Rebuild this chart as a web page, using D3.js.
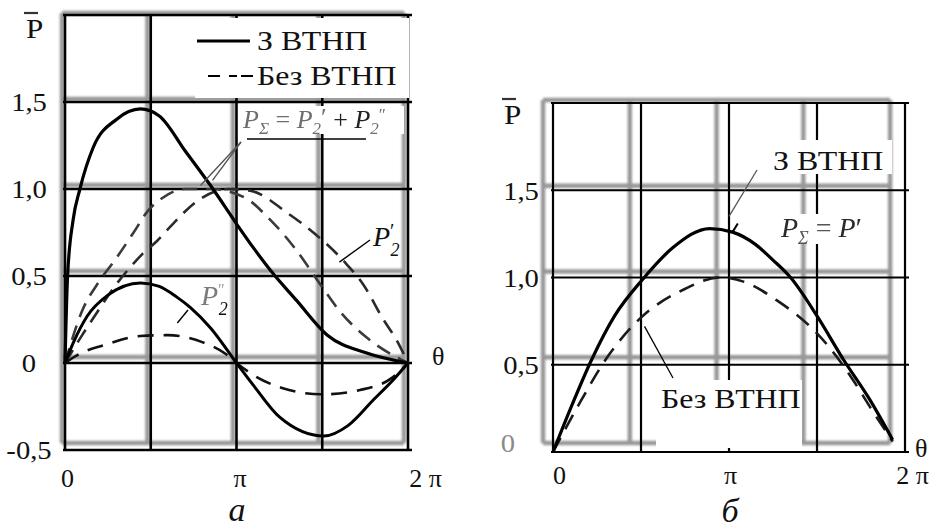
<!DOCTYPE html>
<html>
<head>
<meta charset="utf-8">
<script src="https://cdn.jsdelivr.net/npm/d3@7"></script>
<style>
  html, body { margin: 0; padding: 0; background: #fff; }
  svg { display: block; }
</style>
</head>
<body>
<svg id="chart" width="936" height="529"></svg>
<script>
const PI = Math.PI;

// ---------- Panel а (θ given in multiples of π) ----------
// P_Σ with ВТНП (solid)
const aThetaSumWith = [0, 0.015, 0.047, 0.087, 0.165, 0.3, 0.44, 0.55, 0.7, 0.863, 1.0, 1.1, 1.2, 1.35, 1.53, 1.75, 2.0];
const aSumWith      = [0, 0.5, 0.82, 1.0, 1.24, 1.4, 1.46, 1.42, 1.22, 1.0, 0.8, 0.66, 0.53, 0.36, 0.16, 0.06, 0];
// P2'' with ВТНП (solid)
const aThetaP2ppWith = [0, 0.05, 0.13, 0.25, 0.44, 0.55, 0.65, 0.73, 0.85, 1.0, 1.1, 1.25, 1.51, 1.65, 1.8, 1.92, 2.0];
const aP2ppWith      = [0, 0.12, 0.27, 0.39, 0.46, 0.44, 0.38, 0.32, 0.2, 0, -0.13, -0.31, -0.42, -0.36, -0.21, -0.09, 0];
// P2' (dashed)
const aThetaP2p = [0, 0.1, 0.2, 0.29, 0.38, 0.455, 0.535, 0.62, 0.77, 0.95, 1.08, 1.3, 1.46, 1.64, 1.74, 1.85, 1.94, 2.0];
const aP2p      = [0, 0.16, 0.31, 0.44, 0.55, 0.63, 0.7, 0.79, 0.93, 1.0, 0.99, 0.86, 0.74, 0.57, 0.45, 0.26, 0.12, 0];
// P_Σ without ВТНП (dashed)
const aThetaSumWithout = [0, 0.1, 0.2, 0.29, 0.4, 0.48, 0.57, 0.7, 0.85, 1.05, 1.18, 1.34, 1.49, 1.6, 1.78, 2.0];
const aSumWithout      = [0, 0.3, 0.47, 0.59, 0.75, 0.87, 0.95, 1.0, 1.0, 0.95, 0.84, 0.66, 0.45, 0.3, 0.13, 0];
// P2'' without ВТНП (dashed)
const aThetaP2ppWithout = [0, 0.1, 0.22, 0.44, 0.6, 0.8, 0.94, 1.0, 1.1, 1.27, 1.5, 1.72, 1.9, 2.0];
const aP2ppWithout      = [0, 0.06, 0.1, 0.155, 0.16, 0.12, 0.05, 0, -0.07, -0.145, -0.18, -0.155, -0.09, 0];

// ---------- Panel б ----------
const bThetaSumWith = [0, 0.1, 0.22, 0.35, 0.51, 0.68, 0.89, 1.02, 1.15, 1.25, 1.35, 1.5, 1.65, 1.8, 1.93];
const bSumWith      = [0, 0.25, 0.53, 0.78, 0.99, 1.17, 1.28, 1.26, 1.19, 1.1, 1.0, 0.78, 0.53, 0.3, 0.07];
const bThetaSumWithout = [0, 0.14, 0.32, 0.5, 0.74, 0.95, 1.1, 1.27, 1.46, 1.57, 1.7, 1.8, 1.93];
const bSumWithout      = [0, 0.26, 0.56, 0.77, 0.93, 1.0, 0.97, 0.87, 0.72, 0.6, 0.42, 0.26, 0.06];

// ---------- Ticks ----------
const gridSteps = [0, 0.5, 1, 1.5, 2];
const aGridY = [-0.5, 0, 0.5, 1.0, 1.5, 2.0];
const bGridY = [0, 0.5, 1.0, 1.5, 2.0];
const aYTicks = [-0.5, 0, 0.5, 1.0, 1.5];
const aYTickLabels = ["-0,5", "0", "0,5", "1,0", "1,5"];
const bYTicks = [0, 0.5, 1.0, 1.5];
const bYTickLabels = ["0", "0,5", "1,0", "1,5"];
const xTicks = [0, 1, 2];
const xTickLabels = ["0", "π", "2 π"];

const FONT = "'Liberation Serif', 'Times New Roman', serif";
const svg = d3.select("#chart");

const defs = svg.append("defs");
defs.append("filter").attr("id", "soft").attr("x", "-5%").attr("y", "-5%").attr("width", "110%").attr("height", "110%")
  .append("feGaussianBlur").attr("stdDeviation", 1.1);
defs.append("filter").attr("id", "soft2")
  .append("feGaussianBlur").attr("stdDeviation", 0.6);

const zip = (t, v) => t.map((d, i) => [d, v[i]]);

function text(g, x, y, str, size, opts = {}) {
  const t = g.append("text")
    .attr("transform", `translate(${x},${y}) scale(${opts.sx || 1},1)`)
    .attr("font-family", FONT)
    .attr("font-size", size)
    .attr("text-anchor", opts.anchor || "start")
    .attr("fill", opts.fill || "#111")
    .attr("font-style", opts.italic ? "italic" : "normal");
  if (opts.filter) t.attr("filter", opts.filter);
  t.text(str);
  return t;
}

function makePanel(cfg) {
  const g = svg.append("g");
  const x = d3.scaleLinear().domain([0, 2 * PI]).range(cfg.xr);
  const y = d3.scaleLinear().domain(cfg.yd).range(cfg.yr);
  const [x0, x1] = cfg.xr;
  const [yb, yt] = cfg.yr;

  // shadow copy of the grid, slightly displaced and shrunk
  const ghost = g.append("g")
    .attr("transform", `translate(${cfg.ghost[0]},${cfg.ghost[1]}) scale(${cfg.ghost[2]},${cfg.ghost[3]})`)
    .attr("stroke", "#979797").attr("stroke-width", 4.5).attr("filter", "url(#soft)");
  ghost.selectAll("line.v").data(gridSteps).join("line")
    .attr("x1", d => x(d * PI)).attr("x2", d => x(d * PI))
    .attr("y1", yt).attr("y2", yb);
  ghost.selectAll("line.h").data(cfg.gridY).join("line")
    .attr("x1", x0).attr("x2", x1)
    .attr("y1", d => y(d)).attr("y2", d => y(d));

  // main grid
  const main = g.append("g").attr("stroke", "#000").attr("stroke-width", cfg.gridW);
  main.selectAll("line.v").data(gridSteps).join("line")
    .attr("x1", d => x(d * PI)).attr("x2", d => x(d * PI))
    .attr("y1", yt).attr("y2", yb);
  main.selectAll("line.h").data(cfg.gridY).join("line")
    .attr("x1", x0 - 2).attr("x2", x1 + 4)
    .attr("y1", d => y(d)).attr("y2", d => y(d));

  // y tick labels, centred in the left margin
  const faint = d => cfg.faintZero && d === 0;
  const ya = g.append("g").attr("transform", `translate(${cfg.yLabelX},0)`)
    .call(d3.axisLeft(y).tickValues(cfg.yTicks).tickFormat((d, i) => cfg.yTickLabels[i]).tickSize(0).tickPadding(0));
  ya.select(".domain").remove();
  ya.selectAll("text").attr("x", d => faint(d) ? -12 : 0).attr("y", d => faint(d) ? -9 : 0)
    .attr("text-anchor", "middle")
    .attr("font-family", FONT).attr("font-size", 26)
    .attr("fill", d => faint(d) ? "#8a8a8a" : "#111")
    .attr("transform", "scale(1.1,1)").attr("dy", "0.34em");

  // x tick labels
  const xa = g.append("g").attr("transform", `translate(0,${cfg.xLabelY})`)
    .call(d3.axisBottom(x).tickValues(xTicks.map(d => d * PI)).tickFormat((d, i) => xTickLabels[i]).tickSize(0).tickPadding(0));
  xa.select(".domain").remove();
  xa.selectAll("text").attr("y", 0).attr("dy", 0)
    .attr("dx", (d, i) => cfg.xLabelDx[i])
    .attr("font-family", FONT).attr("font-size", 26).attr("fill", "#111");

  return { g, x, y };
}

const A = makePanel({
  xr: [65, 408], yd: [-0.5, 2.0], yr: [450, 15],
  ghost: [-2.8, -1.8, 0.997, 0.9885], gridW: 2.6, gridY: aGridY,
  yTicks: aYTicks, yTickLabels: aYTickLabels, yLabelX: 29,
  xLabelY: 487, xLabelDx: [2, 3, 17], faintZero: false
});
const B = makePanel({
  xr: [553, 905], yd: [0, 2.0], yr: [452, 103],
  ghost: [-2.2, -1.3, 0.986, 0.983], gridW: 2.2, gridY: bGridY,
  yTicks: bYTicks, yTickLabels: bYTickLabels, yLabelX: 521,
  xLabelY: 484, xLabelDx: [6, 1, 7], faintZero: true
});

// white areas behind legend and annotations
const covers = [
  [A.g, 195, 18, 214, 80],
  [A.g, 246, 106, 158, 28],
  [B.g, 770, 140, 122, 34],
  [B.g, 778, 214, 104, 30],
  [B.g, 656, 380, 146, 68]
];
covers.forEach(([g, x, y, w, h]) => g.append("rect").attr("x", x).attr("y", y).attr("width", w).attr("height", h).attr("fill", "#fff"));

function curve(P, theta, vals, opts) {
  const line = d3.line().x(d => P.x(d[0] * PI)).y(d => P.y(d[1])).curve(d3.curveMonotoneX);
  const p = P.g.append("path").datum(zip(theta, vals))
    .attr("d", line).attr("fill", "none")
    .attr("stroke", opts.color || "#000").attr("stroke-width", opts.w || 3)
    .attr("stroke-linecap", "butt").attr("stroke-linejoin", "round");
  if (opts.dash) p.attr("stroke-dasharray", opts.dash);
  if (opts.filter) p.attr("filter", opts.filter);
  return p;
}

// Panel а curves
curve(A, aThetaSumWithout, aSumWithout, { dash: "15,9", w: 2.6, color: "#3a3a3a", filter: "url(#soft2)" });
curve(A, aThetaP2p, aP2p, { dash: "15,9", w: 2.6, color: "#2a2a2a", filter: "url(#soft2)" });
curve(A, aThetaP2ppWithout, aP2ppWithout, { dash: "16,10", w: 2.6, color: "#111" });
curve(A, aThetaSumWith, aSumWith, { w: 3.2 });
curve(A, aThetaP2ppWith, aP2ppWith, { w: 3.0 });

// Panel б curves
curve(B, bThetaSumWithout, bSumWithout, { dash: "16,10", w: 2.6, color: "#1a1a1a" });
curve(B, bThetaSumWith, bSumWith, { w: 3.2 });

// ---------- Legend (panel а) ----------
A.g.append("line").attr("x1", 197).attr("x2", 250).attr("y1", 41).attr("y2", 41).attr("stroke", "#000").attr("stroke-width", 3);
text(A.g, 257, 50, "З ВТНП", 27, { sx: 1.18 });
A.g.append("line").attr("x1", 208).attr("x2", 253).attr("y1", 76).attr("y2", 76)
  .attr("stroke", "#000").attr("stroke-width", 2).attr("stroke-dasharray", "12,9,8,4");
text(A.g, 257, 85, "Без ВТНП", 27, { sx: 1.18 });

// ---------- Annotations (panel а) ----------
function lead(g, x1, y1, x2, y2, color, w) {
  g.append("line").attr("x1", x1).attr("y1", y1).attr("x2", x2).attr("y2", y2)
    .attr("stroke", color || "#000").attr("stroke-width", w || 1.4);
}

// P_Σ = P2' + P2''
const sumLbl = A.g.append("text").attr("x", 243).attr("y", 128)
  .attr("font-family", FONT).attr("font-size", 26).attr("font-style", "italic").attr("fill", "#6e6e6e")
  .attr("filter", "url(#soft2)");
sumLbl.append("tspan").text("P");
sumLbl.append("tspan").attr("font-size", 17).attr("dy", 6).text("Σ");
sumLbl.append("tspan").attr("dy", -6).attr("font-style", "normal").text(" = ");
sumLbl.append("tspan").text("P");
sumLbl.append("tspan").attr("font-size", 17).attr("dy", 6).text("2");
sumLbl.append("tspan").attr("dy", -8).attr("font-style", "normal").text("′");
sumLbl.append("tspan").attr("dy", 2).attr("font-style", "normal").attr("fill", "#222").text(" + ");
sumLbl.append("tspan").attr("fill", "#222").text("P");
sumLbl.append("tspan").attr("font-size", 17).attr("dy", 6).text("2");
sumLbl.append("tspan").attr("dy", -14).attr("font-size", 17).attr("font-style", "normal").text("″");
lead(A.g, 247, 139, 366, 139, "#000", 1.6);
lead(A.g, 241, 142, A.x(0.79 * PI), A.y(1.02), "#555", 1.4);
lead(A.g, 241, 142, A.x(0.86 * PI), A.y(1.05), "#555", 1.4);

// P2'
const p2pLbl = A.g.append("text").attr("x", 373).attr("y", 246)
  .attr("font-family", FONT).attr("font-size", 28).attr("font-style", "italic").attr("fill", "#111");
p2pLbl.append("tspan").text("P");
p2pLbl.append("tspan").attr("font-size", 20).attr("dy", -8).attr("font-style", "normal").text("′");
p2pLbl.append("tspan").attr("font-size", 18).attr("dy", 18).attr("dx", -4).text("2");
lead(A.g, 370, 240, A.x(1.6 * PI), A.y(0.58), "#000", 1.4);

// P2''
const p2ppLbl = A.g.append("text").attr("x", 201).attr("y", 305)
  .attr("font-family", FONT).attr("font-size", 28).attr("font-style", "italic").attr("fill", "#7a7a7a")
  .attr("filter", "url(#soft2)");
p2ppLbl.append("tspan").text("P");
p2ppLbl.append("tspan").attr("font-size", 16).attr("dy", -10).attr("font-style", "normal").attr("fill", "#999").text("″");
p2ppLbl.append("tspan").attr("font-size", 18).attr("dy", 20).attr("dx", -6).attr("fill", "#111").text("2");
lead(A.g, 188, 310, A.x(0.655 * PI), A.y(0.23), "#000", 1.4);

// ---------- Annotations (panel б) ----------
text(B.g, 773, 170, "З ВТНП", 27, { sx: 1.18 });
lead(B.g, 757, 170, B.x(1.0 * PI), B.y(1.35), "#555", 1.3);
B.g.append("path").attr("d", `M${B.x(1.05 * PI)},${B.y(1.31)} L${B.x(1.02 * PI)},${B.y(1.26)}`)
  .attr("stroke", "#000").attr("stroke-width", 2).attr("fill", "none");

const bSumLbl = B.g.append("text").attr("x", 781).attr("y", 237)
  .attr("font-family", FONT).attr("font-size", 28).attr("font-style", "italic").attr("fill", "#2a2a2a")
  .attr("filter", "url(#soft2)");
bSumLbl.append("tspan").text("P");
bSumLbl.append("tspan").attr("font-size", 18).attr("dy", 7).attr("fill", "#555").text("Σ");
bSumLbl.append("tspan").attr("dy", -7).attr("font-style", "normal").attr("fill", "#555").text(" = ");
bSumLbl.append("tspan").text("P");
bSumLbl.append("tspan").attr("font-style", "normal").text("′");

text(B.g, 661, 408, "Без ВТНП", 27, { sx: 1.18 });
lead(B.g, 673, 378, B.x(0.52 * PI), B.y(0.72), "#000", 1.3);

// ---------- Axis names and captions ----------
function pBar(g, x, y) {
  text(g, x, y, "P", 27, { sx: 1.15 });
  g.append("line").attr("x1", x - 2).attr("x2", x + 12).attr("y1", y - 25).attr("y2", y - 25)
    .attr("stroke", "#333").attr("stroke-width", 2.2);
}
pBar(A.g, 26, 38);
pBar(B.g, 504, 124);

text(A.g, 432, 365, "θ", 26);
text(B.g, 915, 457, "θ", 26);

text(A.g, 237, 521, "а", 34, { italic: true, anchor: "middle" });
text(B.g, 730, 522, "б", 34, { italic: true, anchor: "middle" });
</script>
</body>
</html>
